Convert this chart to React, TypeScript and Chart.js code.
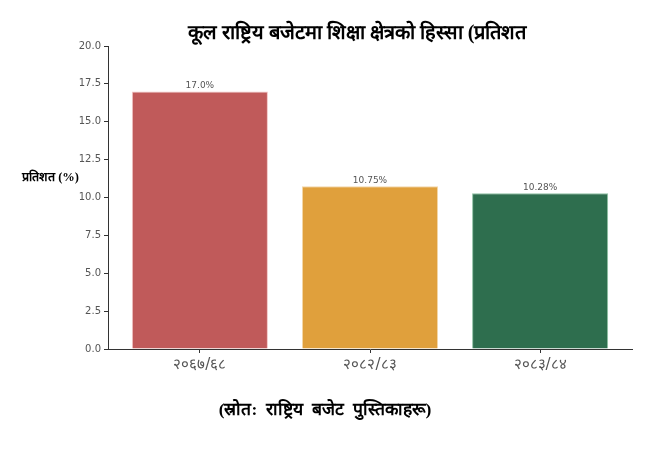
import React, { useEffect, useRef } from 'react';
import { Chart, registerables } from 'chart.js';

Chart.register(...registerables);

const titleText = 'कूल राष्ट्रिय बजेटमा शिक्षा क्षेत्रको हिस्सा (प्रतिशत';
const yLabelText = 'प्रतिशत (%)';
const sourceText = '(स्रोत:  राष्ट्रिय  बजेट  पुस्तिकाहरू)';

const categories = ['२०६७/६८', '२०८२/८३', '२०८३/८४'];
const shares = [17.0, 10.75, 10.28];
const barColors = ['#c05a5a', '#e0a03c', '#2e6e4e'];
const edgeColors = ['#f2c6c6', '#f3d7a8', '#8fc2a4'];

const fmtValue = (v: number) => (Number.isInteger(v) ? v.toFixed(1) : String(v)) + '%';

const textPlugin = {
  id: 'texts',
  afterDraw(chart: Chart) {
    const ctx = chart.ctx;
    ctx.save();
    ctx.fillStyle = '#000';
    ctx.textBaseline = 'middle';

    ctx.textAlign = 'center';
    ctx.font = 'bold 20px serif';
    ctx.fillText(titleText, 357, 34);

    ctx.textAlign = 'left';
    ctx.font = 'bold 12.5px serif';
    ctx.fillText(yLabelText, 22, 178);

    ctx.textAlign = 'center';
    ctx.font = 'bold 17.5px serif';
    ctx.fillText(sourceText, 325, 410);

    // value labels over bars
    ctx.fillStyle = '#555';
    ctx.font = '9px "DejaVu Sans"';
    ctx.textBaseline = 'bottom';
    const meta = chart.getDatasetMeta(0);
    meta.data.forEach((bar: any, i: number) => {
      ctx.fillText(fmtValue(shares[i]), bar.x, bar.y - 1);
    });
    ctx.restore();
  },
};

const App: React.FC = () => {
  const canvasRef = useRef<HTMLCanvasElement | null>(null);

  useEffect(() => {
    document.body.style.margin = '0';
    if (!canvasRef.current) return;
    const ctx = canvasRef.current.getContext('2d');
    if (!ctx) return;

    const chart = new Chart(ctx, {
      type: 'bar',
      data: {
        datasets: [
          {
            data: shares.map((v, i) => ({ x: i, y: v })),
            backgroundColor: barColors,
            borderColor: edgeColors,
            borderWidth: 1,
            barPercentage: 0.8,
            categoryPercentage: 1,
          },
        ],
      },
      options: {
        animation: false,
        responsive: true,
        maintainAspectRatio: false,
        layout: { padding: { top: 46, right: 36, left: 0, bottom: 0 } },
        plugins: {
          legend: { display: false },
          tooltip: { enabled: false },
        },
        scales: {
          x: {
            type: 'linear',
            min: -0.54,
            max: 2.54,
            offset: false,
            afterBuildTicks: (scale: any) => {
              scale.ticks = categories.map((_, i) => ({ value: i }));
            },
            afterFit: (scale: any) => {
              scale.height = 117;
            },
            ticks: {
              callback: (v: any) => categories[v as number],
              color: '#555',
              font: { family: '"DejaVu Sans", sans-serif', size: 15 },
              padding: 3,
              maxRotation: 0,
              autoSkip: false,
            },
            grid: { offset: false, drawOnChartArea: false, drawTicks: true, tickLength: 4, color: '#333' },
            border: { display: true, color: '#333' },
          },
          y: {
            min: 0,
            max: 20,
            afterFit: (scale: any) => {
              scale.width = 108;
            },
            ticks: {
              stepSize: 2.5,
              callback: (v: any) => Number(v).toFixed(1),
              color: '#555',
              font: { family: '"DejaVu Sans", sans-serif', size: 10 },
              padding: 3,
            },
            grid: { drawOnChartArea: false, drawTicks: true, tickLength: 4, color: '#333' },
            border: { display: true, color: '#333' },
          },
        },
      },
      plugins: [textPlugin],
    });

    return () => {
      chart.destroy();
    };
  }, []);

  return (
    <div style={{ position: 'absolute', left: 0, top: 0, width: 668, height: 466 }}>
      <canvas ref={canvasRef} />
    </div>
  );
};

export default App;
